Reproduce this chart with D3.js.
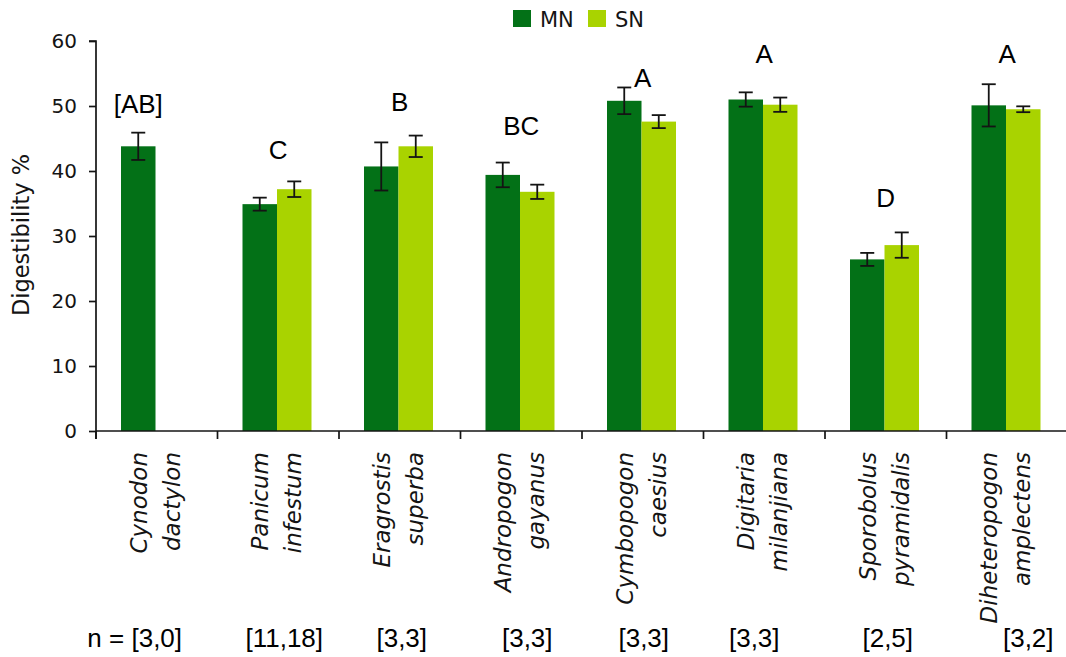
<!DOCTYPE html>
<html>
<head>
<meta charset="utf-8">
<script src="https://cdn.jsdelivr.net/npm/d3@7"></script>
<style>
  html, body { margin: 0; padding: 0; background: #fff; }
  svg { display: block; }
</style>
</head>
<body>
<svg id="chart" width="1066" height="657"></svg>
<script>
// Grass species and their in-vitro digestibility (mean ± error) for MN and SN samples
const species = [
  "Cynodon dactylon", "Panicum infestum", "Eragrostis superba", "Andropogon gayanus",
  "Cymbopogon caesius", "Digitaria milanjiana", "Sporobolus pyramidalis", "Diheteropogon amplectens"
];
const seriesNames = ["MN", "SN"];
const mnValues = [43.8, 34.9, 40.7, 39.4, 50.8, 51.0, 26.4, 50.1];
const snValues = [null, 37.2, 43.8, 36.8, 47.6, 50.2, 28.6, 49.5];
const mnErrors = [2.1, 1.0, 3.7, 1.9, 2.05, 1.1, 1.0, 3.25];
const snErrors = [null, 1.2, 1.65, 1.1, 1.0, 1.1, 1.95, 0.45];
const groupLetters = ["[AB]", "C", "B", "BC", "A", "A", "D", "A"];
const letterLevels = [48.9, 41.8, 49.3, 45.5, 52.9, 56.6, 34.5, 56.6];
const sampleSizes = ["[3,0]", "[11,18]", "[3,3]", "[3,3]", "[3,3]", "[3,3]", "[2,5]", "[3,2]"];
const yTicks = [0, 10, 20, 30, 40, 50, 60];

const colors = { MN: "#037117", SN: "#a9d300" };
const ink = "#141414";

const svg = d3.select("#chart");
const plotLeft = 96, plotRight = 1068, plotTop = 41, plotBottom = 431;

const x = d3.scaleBand().domain(species).range([plotLeft, plotRight]).padding(0);
const inner = d3.scaleBand().domain(seriesNames).range([25, 94]).padding(0);
const y = d3.scaleLinear().domain([0, 60]).range([plotBottom, plotTop]);

const rows = species.map((s, i) => ({
  species: s,
  bars: [
    { key: "MN", value: mnValues[i], err: mnErrors[i] },
    { key: "SN", value: snValues[i], err: snErrors[i] }
  ].filter(b => b.value != null),
  letter: groupLetters[i],
  level: letterLevels[i],
  n: sampleSizes[i]
}));

// Bars
const groups = svg.append("g").selectAll("g.grp")
  .data(rows).join("g")
  .attr("class", "grp")
  .attr("transform", d => `translate(${x(d.species)},0)`);

groups.selectAll("rect")
  .data(d => d.bars).join("rect")
  .attr("x", b => inner(b.key))
  .attr("width", inner.bandwidth())
  .attr("y", b => y(b.value))
  .attr("height", b => y(0) - y(b.value))
  .attr("fill", b => colors[b.key]);

// Error bars
const capHalf = 7;
const eb = groups.selectAll("g.err")
  .data(d => d.bars).join("g")
  .attr("class", "err")
  .attr("stroke", ink)
  .attr("stroke-width", 1.8);
eb.append("line")
  .attr("x1", b => inner(b.key) + inner.bandwidth() / 2)
  .attr("x2", b => inner(b.key) + inner.bandwidth() / 2)
  .attr("y1", b => y(b.value + b.err))
  .attr("y2", b => y(b.value - b.err));
eb.selectAll("line.cap")
  .data(b => [b.value + b.err, b.value - b.err].map(v => ({ b, v }))).join("line")
  .attr("class", "cap")
  .attr("x1", c => inner(c.b.key) + inner.bandwidth() / 2 - capHalf)
  .attr("x2", c => inner(c.b.key) + inner.bandwidth() / 2 + capHalf)
  .attr("y1", c => y(c.v))
  .attr("y2", c => y(c.v));

// Significance letters
groups.append("text")
  .attr("x", d => d.bars.length === 1
    ? inner(d.bars[0].key) + inner.bandwidth() / 2
    : x.bandwidth() / 2)
  .attr("y", d => y(d.level))
  .attr("text-anchor", "middle")
  .attr("font-family", "Liberation Sans, Arial, sans-serif")
  .attr("font-size", 26)
  .attr("fill", "#000")
  .text(d => d.letter);

// Y axis
const yAxis = d3.axisLeft(y).tickValues(yTicks).tickSize(7).tickSizeOuter(7).tickPadding(12);
const gy = svg.append("g").attr("transform", `translate(${plotLeft},0)`).call(yAxis);
gy.select(".domain").attr("stroke", ink).attr("stroke-width", 1.7)
  .attr("d", `M-7,${plotTop}H0V${plotBottom + 8}`);
gy.selectAll(".tick line").attr("stroke", ink).attr("stroke-width", 1.7);
gy.selectAll(".tick text")
  .attr("font-family", "DejaVu Sans, Verdana, sans-serif")
  .attr("font-size", 20)
  .attr("fill", ink);

// X axis (category boundaries)
const xAxis = d3.axisBottom(x).tickSize(0).tickFormat("");
const gx = svg.append("g").attr("transform", `translate(0,${plotBottom})`).call(xAxis);
gx.select(".domain").attr("stroke", ink).attr("stroke-width", 1.7).attr("d", `M${plotLeft},0H${plotRight}`);
gx.selectAll(".tick").remove();
gx.selectAll("line.bound")
  .data(species.map(s => x(s)).concat([plotRight]))
  .join("line")
  .attr("class", "bound")
  .attr("x1", d => d).attr("x2", d => d)
  .attr("y1", 0).attr("y2", 8)
  .attr("stroke", ink).attr("stroke-width", 1.7);

// Species labels, rotated, two lines each
const labelTop = 452;
const labelG = svg.append("g").selectAll("g")
  .data(rows).join("g")
  .attr("transform", d => `translate(${x(d.species) + x.bandwidth() / 2},${labelTop})`);
labelG.selectAll("text")
  .data(d => d.species.split(" ").map((w, k) => ({ w, k }))).join("text")
  .attr("transform", t => `translate(${t.k === 0 ? -10 : 23},0) rotate(-90)`)
  .attr("text-anchor", "end")
  .attr("font-family", "DejaVu Sans, Verdana, sans-serif")
  .attr("font-style", "italic")
  .attr("font-size", 23)
  .attr("fill", ink)
  .text(t => t.w);

// Sample sizes beneath each group
const nNudge = [0, 6, 2, 6, 1, -10, 2, 21];
const nText = svg.append("g").selectAll("text")
  .data(rows).join("text")
  .attr("x", (d, i) => x(d.species) + x.bandwidth() / 2 + nNudge[i])
  .attr("y", 647)
  .attr("text-anchor", "middle")
  .attr("font-family", "Liberation Sans, Arial, sans-serif")
  .attr("font-size", 26)
  .attr("fill", "#000")
  .text(d => d.n);
const first = nText.filter((d, i) => i === 0);
const firstW = first.node().getComputedTextLength();
svg.append("text")
  .attr("x", +first.attr("x") - firstW / 2)
  .attr("y", 647)
  .attr("text-anchor", "end")
  .attr("font-family", "Liberation Sans, Arial, sans-serif")
  .attr("font-size", 26)
  .attr("fill", "#000")
  .attr("xml:space", "preserve")
  .text("n = ");

// Y axis title
svg.append("text")
  .attr("transform", `translate(29,235) rotate(-90)`)
  .attr("text-anchor", "middle")
  .attr("font-family", "DejaVu Sans, Verdana, sans-serif")
  .attr("font-size", 22.5)
  .attr("fill", ink)
  .text("Digestibility %");

// Legend
const legend = svg.append("g").selectAll("g")
  .data(seriesNames).join("g")
  .attr("transform", (d, i) => `translate(${513 + i * 75},10)`);
legend.append("rect").attr("width", 18).attr("height", 17).attr("fill", d => colors[d]);
legend.append("text")
  .attr("x", 27).attr("y", 17)
  .attr("font-family", "DejaVu Sans, Verdana, sans-serif")
  .attr("font-size", 21)
  .attr("fill", ink)
  .text(d => d);
</script>
</body>
</html>
